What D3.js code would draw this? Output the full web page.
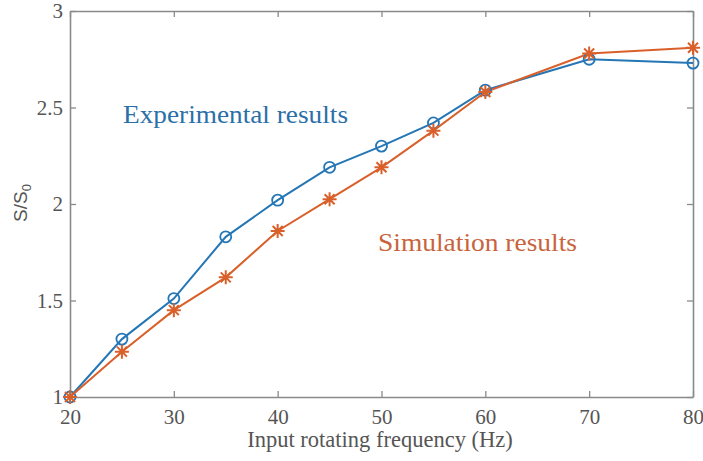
<!DOCTYPE html>
<html>
<head>
<meta charset="utf-8">
<script src="https://cdn.jsdelivr.net/npm/d3@7"></script>
<style>
  html, body { margin: 0; padding: 0; background: #fff; }
  svg { display: block; }
</style>
</head>
<body>
<svg id="chart" width="703" height="461"></svg>
<script>
// Input rotating frequency (Hz)
const frequencies = [20, 25, 30, 35, 40, 45, 50, 55, 60, 70, 80];
// Normalised S/S0 values
const experimental = [1.00, 1.30, 1.51, 1.83, 2.02, 2.19, 2.30, 2.42, 2.59, 2.75, 2.73];
const simulation   = [1.00, 1.235, 1.45, 1.62, 1.86, 2.025, 2.19, 2.38, 2.58, 2.78, 2.81];
const xTicks = [20, 30, 40, 50, 60, 70, 80];
const yTicks = [1, 1.5, 2, 2.5, 3];

const blue = "#2476b5";
const orange = "#d9602a";
const axisGrey = "#8a8a8a";
const textGrey = "#555";

const svg = d3.select("#chart");
const plotLeft = 70, plotRight = 693, plotTop = 11, plotBottom = 397;

const x = d3.scaleLinear().domain([20, 80]).range([plotLeft, plotRight]);
const y = d3.scaleLinear().domain([1, 3]).range([plotBottom, plotTop]);

const serif = "'Liberation Serif', 'Times New Roman', serif";

// Axes with inward ticks on all four sides
function styleAxis(g) {
  g.selectAll("path").attr("stroke", axisGrey).attr("stroke-width", 1.6);
  g.selectAll("line").attr("stroke", axisGrey).attr("stroke-width", 1.3);
  g.selectAll("text").attr("fill", textGrey).attr("font-family", serif).attr("font-size", 21);
}

svg.append("g").attr("transform", `translate(0,${plotBottom})`)
  .call(d3.axisBottom(x).tickValues(xTicks).tickSizeInner(-6).tickSizeOuter(0).tickPadding(12).tickFormat(d3.format("d")))
  .call(styleAxis);
svg.append("g").attr("transform", `translate(0,${plotTop})`)
  .call(d3.axisTop(x).tickValues(xTicks).tickSizeInner(-6).tickSizeOuter(0).tickFormat(""))
  .call(styleAxis);
svg.append("g").attr("transform", `translate(${plotLeft},0)`)
  .call(d3.axisLeft(y).tickValues(yTicks).tickSizeInner(-6).tickSizeOuter(0).tickPadding(7).tickFormat(d => String(d)))
  .call(styleAxis);
svg.append("g").attr("transform", `translate(${plotRight},0)`)
  .call(d3.axisRight(y).tickValues(yTicks).tickSizeInner(-6).tickSizeOuter(0).tickFormat(""))
  .call(styleAxis);

// Series lines
const line = d3.line().x(d => x(d[0])).y(d => y(d[1]));
const expPts = frequencies.map((f, i) => [f, experimental[i]]);
const simPts = frequencies.map((f, i) => [f, simulation[i]]);

svg.append("path").datum(expPts).attr("d", line)
  .attr("fill", "none").attr("stroke", blue).attr("stroke-width", 2);
svg.append("path").datum(simPts).attr("d", line)
  .attr("fill", "none").attr("stroke", orange).attr("stroke-width", 2);

// Circle markers for the experimental series
svg.append("g").selectAll("circle").data(expPts).join("circle")
  .attr("cx", d => x(d[0])).attr("cy", d => y(d[1])).attr("r", 5.5)
  .attr("fill", "none").attr("stroke", blue).attr("stroke-width", 1.8);

// Asterisk markers for the simulation series
const asterisk = "M0,-7L0,7M-7,0L7,0M-5,-5L5,5M-5,5L5,-5";
svg.append("g").selectAll("path").data(simPts).join("path")
  .attr("transform", d => `translate(${x(d[0])},${y(d[1])})`)
  .attr("d", asterisk)
  .attr("fill", "none").attr("stroke", orange).attr("stroke-width", 2);

// Series annotations
svg.append("text").attr("x", 123).attr("y", 123)
  .attr("font-family", serif).attr("font-size", 26).attr("fill", "#2b6fa8")
  .attr("textLength", 225).attr("lengthAdjust", "spacingAndGlyphs")
  .text("Experimental results");
svg.append("text").attr("x", 378).attr("y", 251)
  .attr("font-family", serif).attr("font-size", 26).attr("fill", "#c8643d")
  .attr("textLength", 199).attr("lengthAdjust", "spacingAndGlyphs")
  .text("Simulation results");

// Axis titles
svg.append("text").attr("x", 380).attr("y", 447)
  .attr("text-anchor", "middle").attr("font-family", serif).attr("font-size", 22.5).attr("fill", textGrey)
  .text("Input rotating frequency (Hz)");

const yTitle = svg.append("text")
  .attr("transform", "translate(27,203) rotate(-90)")
  .attr("text-anchor", "middle")
  .attr("font-family", "'Liberation Sans', Arial, sans-serif").attr("font-size", 19).attr("fill", textGrey);
yTitle.append("tspan").text("S/S");
yTitle.append("tspan").attr("font-size", 13).attr("dy", 4).text("0");
</script>
</body>
</html>
